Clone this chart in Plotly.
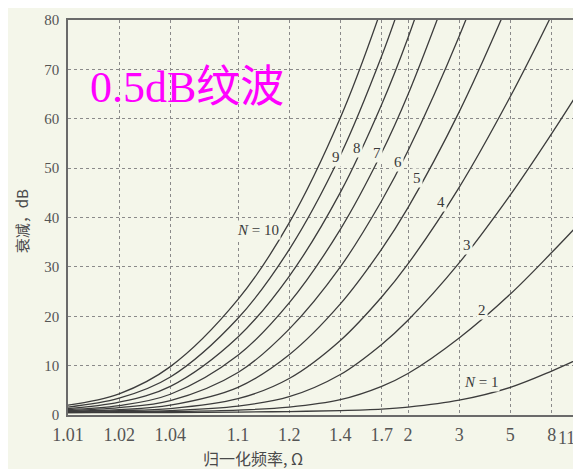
import math
import plotly.graph_objects as go

# Normalized frequency points (Omega) at which the curves were read
OMEGA = [1.01, 1.02, 1.04, 1.1, 1.2, 1.4, 1.7, 2, 3, 5, 8, 11]

# Attenuation (dB) for each filter order N
ATT_N1 = [0.5, 0.5, 0.5, 0.6, 0.7, 0.9, 1.2, 1.6, 3.0, 5.6, 8.9, 11.3]
ATT_N2 = [0.5, 0.6, 0.7, 1.0, 1.6, 3.1, 5.8, 8.4, 15.6, 24.5, 32.9, 38.5]
ATT_N3 = [0.6, 0.7, 0.9, 1.8, 3.7, 8.2, 14.3, 19.2, 30.8, 44.6, 57.0, 65.3]
ATT_N4 = [0.7, 0.9, 1.3, 3.3, 7.4, 15.1, 23.9, 30.6, 46.1, 64.5, 81.0, 92.2]
ATT_N5 = [0.8, 1.1, 2.0, 5.6, 12.2, 22.5, 33.6, 42.0, 61.4, 84.4, 105.0]
ATT_N6 = [0.9, 1.5, 2.9, 8.6, 17.4, 30.0, 43.4, 53.5, 76.7, 104.0]
ATT_N7 = [1.1, 1.9, 4.2, 12.1, 22.7, 37.6, 53.1, 64.9, 92.0]
ATT_N8 = [1.3, 2.6, 5.8, 15.8, 28.1, 45.1, 62.9, 76.4, 107.0]
ATT_N9 = [1.6, 3.4, 7.7, 19.6, 33.5, 52.6, 72.7, 87.8]
ATT_N10 = [2.0, 4.3, 9.8, 23.4, 38.9, 60.2, 82.4, 99.2]
SERIES = [ATT_N1, ATT_N2, ATT_N3, ATT_N4, ATT_N5, ATT_N6, ATT_N7, ATT_N8, ATT_N9, ATT_N10]

# Axis ticks
X_TICK_OMEGA = [1.01, 1.02, 1.04, 1.1, 1.2, 1.4, 1.7, 2, 3, 5, 8, 11]
X_TICK_TEXT = ["1.01", "1.02", "1.04", "1.1", "1.2", "1.4", "1.7", "2", "3", "5", "8", "11"]
Y_TICKS = [0, 10, 20, 30, 40, 50, 60, 70, 80]

# Curve labels: (text, Omega, dB)
LABEL_TEXT = ["<i>N</i> = 10", "9", "8", "7", "6", "5", "4", "3", "2", "<i>N</i> = 1"]
LABEL_OMEGA = [1.131, 1.375, 1.500, 1.660, 1.870, 2.130, 2.570, 3.220, 3.740, 3.690]
LABEL_DB = [37.5, 52.2, 54.0, 53.0, 51.2, 48.0, 43.2, 34.5, 21.2, 6.7]

LINE_COLOR = "#3c3c3c"
GRID_COLOR = "#8a8a8a"
TICK_COLOR = "#555555"
BG = "#f4f6ea"
SERIF = "Liberation Serif, DejaVu Serif, serif"

fig = go.Figure()
for vals in SERIES:
    fig.add_trace(go.Scatter(
        x=[o - 1 for o in OMEGA[:len(vals)]],
        y=vals,
        mode="lines",
        line=dict(color=LINE_COLOR, width=1.3, shape="spline", smoothing=1.0),
        showlegend=False,
        hoverinfo="skip",
    ))

for txt, om, db in zip(LABEL_TEXT, LABEL_OMEGA, LABEL_DB):
    fig.add_annotation(
        x=math.log10(om - 1), y=db, xref="x", yref="y",
        text=txt, showarrow=False,
        font=dict(family=SERIF, size=15, color="#3a3a3a"),
        bgcolor=BG,
    )

# last x tick label sits at the right edge of the picture
fig.add_annotation(
    x=math.log10(X_TICK_OMEGA[-1] - 1), y=-0.058, xref="x", yref="paper",
    xanchor="right", yanchor="middle", xshift=-1,
    text=X_TICK_TEXT[-1], showarrow=False,
    font=dict(family=SERIF, size=18, color=TICK_COLOR),
)

fig.add_annotation(
    x=0.039, y=0.828, xref="paper", yref="paper", xanchor="left", yanchor="middle",
    text="0.5dB纹波", showarrow=False,
    font=dict(family="Liberation Serif, Noto Sans CJK SC, serif", size=44, color="#ff00ff"),
)
fig.add_annotation(
    x=-0.09, y=0.49, xref="paper", yref="paper", xanchor="center", yanchor="middle",
    text="衰减，dB", textangle=-90, showarrow=False,
    font=dict(family="Noto Sans CJK SC, " + SERIF, size=15, color="#4a4a4a"),
)
fig.add_annotation(
    x=0.36, y=-0.11, xref="paper", yref="paper", xanchor="center", yanchor="middle",
    text="归一化频率, Ω", showarrow=False,
    font=dict(family="Noto Sans CJK SC, " + SERIF, size=16, color="#4a4a4a"),
)

fig.update_layout(
    width=573, height=461,
    margin=dict(l=60, r=0, t=12, b=54),
    paper_bgcolor=BG, plot_bgcolor=BG,
    xaxis=dict(
        type="log", range=[-2, 1 + 3 / 170],
        tickvals=[o - 1 for o in X_TICK_OMEGA],
        ticktext=X_TICK_TEXT[:-1] + [""],
        tickfont=dict(family=SERIF, size=18, color=TICK_COLOR),
        ticks="outside", ticklen=3, tickcolor=BG,
        showgrid=True, gridcolor=GRID_COLOR, griddash="dot", gridwidth=1,
        showline=True, linecolor="#6a6a6a", linewidth=1.5, mirror=True,
        zeroline=False, automargin=False,
    ),
    yaxis=dict(
        range=[0, 80], tickvals=Y_TICKS,
        tickfont=dict(family=SERIF, size=15, color=TICK_COLOR),
        ticks="outside", ticklen=4, tickcolor=BG,
        showgrid=True, gridcolor=GRID_COLOR, griddash="dot", gridwidth=1,
        showline=True, linecolor="#6a6a6a", linewidth=1.5,
        zeroline=False, automargin=False,
    ),
)

fig.write_html("out.html")
